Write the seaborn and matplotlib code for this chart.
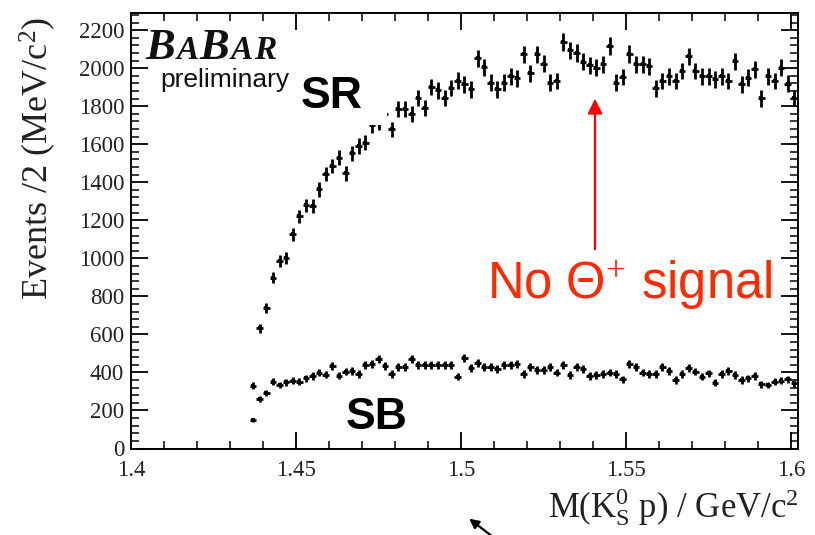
import numpy as np
import pandas as pd
import matplotlib
matplotlib.use("Agg")
import matplotlib.pyplot as plt
import seaborn as sns
from matplotlib.ticker import MultipleLocator, FuncFormatter
from matplotlib.patches import FancyArrowPatch, Rectangle

# ---------------- data ----------------
first_bin_center = 1.437   # GeV/c^2
bin_width = 0.002          # GeV/c^2 (2 MeV bins)

sr_counts = [330, 632, 740, 898, 987, 1001, 1127, 1220, 1278, 1275,
             1362, 1442, 1486, 1529, 1447, 1552, 1591, 1608, 1700, 1715,
             1760, 1678, 1783, 1783, 1757, 1844, 1790, 1900, 1883, 1844,
             1895, 1935, 1915, 1888, 2051, 2005, 1923, 1888, 1923, 1958,
             1946, 2072, 1973, 2072, 2023, 1923, 1932, 2138, 2093, 2080,
             2033, 2016, 2002, 2020, 2116, 1923, 1953, 2075, 2020, 2020,
             2011, 1894, 1932, 1958, 1932, 1985, 2063, 1985, 1958, 1958,
             1941, 1958, 1932, 2037, 1915, 1949, 1993, 1841, 1958, 1932,
             2002, 1918, 1844]

sb_counts = [150, 260, 293, 351, 334, 348, 357, 351, 369, 381,
             399, 388, 436, 383, 404, 409, 392, 439, 444, 471,
             436, 392, 427, 430, 471, 439, 439, 439, 439, 439,
             439, 378, 474, 422, 448, 430, 427, 417, 439, 439,
             445, 392, 427, 413, 413, 427, 399, 439, 387, 427,
             417, 381, 387, 392, 399, 392, 364, 444, 427, 399,
             392, 392, 430, 409, 360, 392, 422, 404, 378, 395,
             346, 392, 409, 387, 360, 369, 381, 339, 334, 351,
             357, 364, 343]

x_ticks = [1.4, 1.45, 1.5, 1.55, 1.6]
y_ticks = [0, 200, 400, 600, 800, 1000, 1200, 1400, 1600, 1800, 2000, 2200]

n_sr = len(sr_counts)
n_sb = len(sb_counts)
mass_sr = np.round(first_bin_center + bin_width * np.arange(n_sr), 4)
mass_sb = np.round(first_bin_center + bin_width * np.arange(n_sb), 4)

df = pd.concat([
    pd.DataFrame({"mass": mass_sr, "events": sr_counts, "region": "SR"}),
    pd.DataFrame({"mass": mass_sb, "events": sb_counts, "region": "SB"}),
], ignore_index=True)
df["err"] = np.sqrt(df["events"])

# ---------------- style ----------------
sns.set_theme(style="ticks")
plt.rcParams["font.family"] = ["Liberation Serif", "DejaVu Serif"]
plt.rcParams["mathtext.fontset"] = "custom"
plt.rcParams["mathtext.rm"] = "Liberation Serif"
plt.rcParams["mathtext.it"] = "Liberation Serif:italic"
plt.rcParams["mathtext.bf"] = "Liberation Serif:bold"

W, H = 815, 535
fig = plt.figure(figsize=(W / 100, H / 100), dpi=100)
fig.patch.set_facecolor("white")

def fx(x):
    return x / W

def fy(y):
    return 1 - y / H

L, R, T, B = 131, 798, 13, 448.5
ax = fig.add_axes([fx(L), fy(B), (R - L) / W, (B - T) / H])
ax.set_facecolor("white")

for reg in ("SR", "SB"):
    d = df[df["region"] == reg]
    ax.errorbar(d["mass"], d["events"], yerr=d["err"], xerr=bin_width / 2,
                fmt="none", ecolor="black", elinewidth=2.0, capsize=0, zorder=3)
sns.scatterplot(data=df, x="mass", y="events", color="black", s=5,
                marker="s", linewidth=0, legend=False, ax=ax, zorder=4)

ax.set_xlim(1.4, 1.6021)
ax.set_ylim(0, 2290)
ax.set_xlabel("")
ax.set_ylabel("")

ax.xaxis.set_minor_locator(MultipleLocator(0.01))
ax.yaxis.set_minor_locator(MultipleLocator(40))
ax.set_xticks(x_ticks)
ax.set_yticks(y_ticks)
ax.xaxis.set_major_formatter(FuncFormatter(lambda v, p: f"{v:g}"))
ax.yaxis.set_major_formatter(FuncFormatter(lambda v, p: f"{v:g}"))
ax.tick_params(which="both", direction="in", top=True, right=True,
               colors="black", labelcolor="#222222", labelsize=16.5)
ax.tick_params(which="major", length=12, width=1.3)
ax.tick_params(which="minor", length=6, width=1.1)
ax.tick_params(axis="y", pad=5)
ax.tick_params(axis="x", pad=8)
for s in ax.spines.values():
    s.set_linewidth(1.4)
    s.set_color("black")

# white box behind "SR"
fig.patches.append(Rectangle((fx(280), fy(125)), (387 - 280) / W, (125 - 50) / H,
                             transform=fig.transFigure, facecolor="white",
                             edgecolor="none", zorder=5))

# axis titles
fig.text(fx(38), fy(17), "Events /2 (MeV/c$^\\mathrm{2}$)", rotation=90,
         ha="center", va="top", fontsize=26, color="#222222")
fig.text(fx(799), fy(517), "M(K$_\\mathrm{S}^\\mathrm{0}$ p) / GeV/c$^\\mathrm{2}$",
         ha="right", va="baseline", fontsize=25, color="#222222")

# BABAR logo
logo_font = dict(family="Liberation Serif", style="italic", weight="bold",
                 color="#111111", ha="left", va="baseline", zorder=6)
for letter, xpos, size in (("B", 145, 32), ("A", 177, 24), ("B", 199, 32),
                           ("A", 231, 24), ("R", 254, 24)):
    fig.text(fx(xpos), fy(59), letter, fontsize=size, **logo_font)
fig.text(fx(160), fy(87), "preliminary", fontsize=19, family="Liberation Sans",
         ha="left", va="baseline", color="#111111", zorder=6)

fig.text(fx(301), fy(108), "SR", fontsize=32, family="Liberation Sans",
         weight="bold", ha="left", va="baseline", color="black", zorder=6)
fig.text(fx(346), fy(429), "SB", fontsize=32, family="Liberation Sans",
         weight="bold", ha="left", va="baseline", color="black", zorder=6)

fig.text(fx(487), fy(298), "No Θ$^{+}$ signal", fontsize=36.5,
         family="Liberation Sans", ha="left", va="baseline", color="#ff2a00", zorder=6)

# red arrow
fig.patches.append(FancyArrowPatch((fx(595), fy(252)), (fx(595), fy(96)),
                                   transform=fig.transFigure, arrowstyle="-|>",
                                   mutation_scale=22, color="#ff0000", lw=1.6, zorder=6))
# small black arrow at bottom
fig.patches.append(FancyArrowPatch((fx(493), fy(537)), (fx(467), fy(517)),
                                   transform=fig.transFigure, arrowstyle="-|>",
                                   mutation_scale=14, color="black", lw=1.6, zorder=6))

fig.savefig("out.png", dpi=100, facecolor="white")
